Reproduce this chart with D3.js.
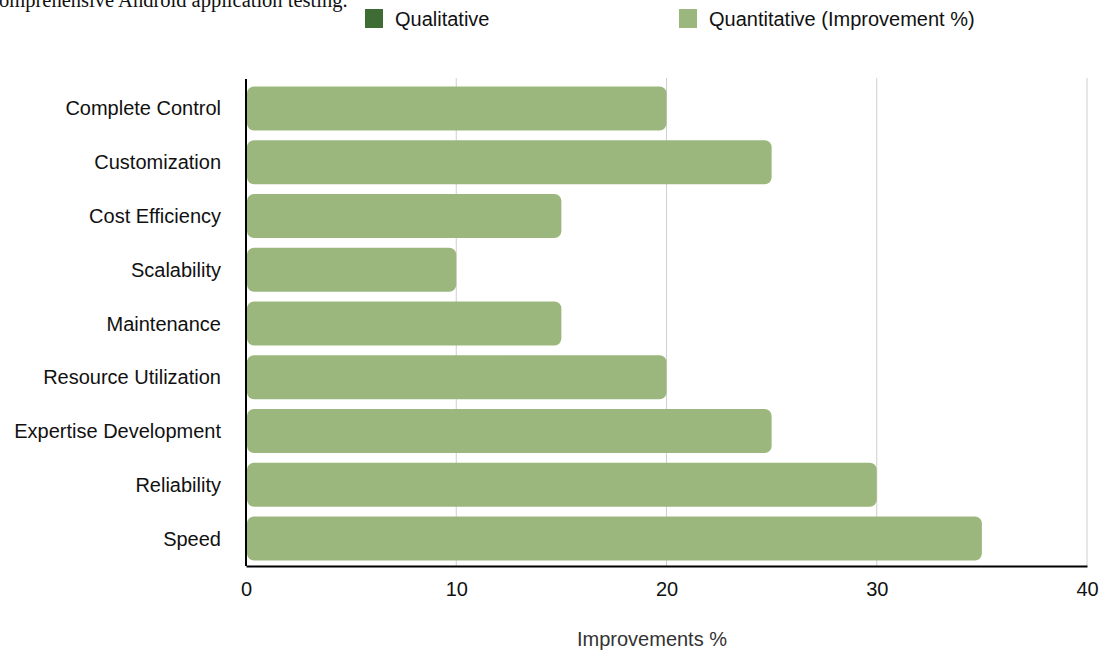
<!DOCTYPE html>
<html>
<head>
<meta charset="utf-8">
<script src="https://cdn.jsdelivr.net/npm/d3@7"></script>
<style>
  body { margin: 0; background: #fff; }
  svg { display: block; }
</style>
</head>
<body>
<div id="chart"></div>
<script>
'use strict';

// chart data
const categories = ["Complete Control", "Customization", "Cost Efficiency", "Scalability",
    "Maintenance", "Resource Utilization", "Expertise Development", "Reliability", "Speed"];
const improvements = [20, 25, 15, 10, 15, 20, 25, 30, 35];
const xTicks = [0, 10, 20, 30, 40];
const legendLabels = ["Qualitative", "Quantitative (Improvement %)"];
const legendColors = ["#3f6b34", "#9bb77e"];

const W = 1102, H = 650;
const plotLeft = 246, plotRight = 1087, plotTop = 81, plotBottom = 566;
const sans = "'Liberation Sans', Arial, sans-serif";

const svg = d3.select("#chart").append("svg")
    .attr("width", W)
    .attr("height", H);

// clipped caption from the surrounding document
svg.append("text")
    .attr("x", -10)
    .attr("y", 7)
    .style("font-family", "'Liberation Serif', serif")
    .style("font-size", "20.5px")
    .attr("fill", "#111")
    .text("comprehensive Android application testing.");

const x = d3.scaleLinear().domain([0, 40]).range([plotLeft, plotRight]);
const y = d3.scaleBand().domain(categories).range([plotTop, plotBottom]).paddingInner(0.18).paddingOuter(0.1);

// gridlines
svg.append("g")
    .selectAll("line")
    .data(xTicks.slice(1))
    .enter()
    .append("line")
    .attr("x1", d => x(d)).attr("x2", d => x(d))
    .attr("y1", plotTop - 3).attr("y2", plotBottom)
    .attr("stroke", "#cfcfcf")
    .attr("stroke-width", 1);

// bars
svg.append("g")
    .selectAll("rect")
    .data(categories)
    .enter()
    .append("rect")
    .attr("x", x(0) + 1)
    .attr("y", d => y(d))
    .attr("width", (d, i) => x(improvements[i]) - x(0) - 1)
    .attr("height", y.bandwidth())
    .attr("rx", 7)
    .attr("fill", legendColors[1]);

// axes
const xAxis = svg.append("g")
    .attr("transform", "translate(0," + plotBottom + ")")
    .call(d3.axisBottom(x).tickValues(xTicks).tickSize(0).tickPadding(16));
xAxis.select(".domain").attr("stroke", "#000").attr("stroke-width", 2);
xAxis.selectAll("text")
    .style("font-family", sans)
    .style("font-size", "20px")
    .attr("fill", "#111");

const yAxis = svg.append("g")
    .attr("transform", "translate(" + plotLeft + ",0)")
    .call(d3.axisLeft(y).tickSize(0).tickPadding(25));
yAxis.select(".domain").attr("d", "M0," + (plotTop - 2) + "V" + plotBottom)
    .attr("stroke", "#000").attr("stroke-width", 2);
yAxis.selectAll("text")
    .style("font-family", sans)
    .style("font-size", "20px")
    .attr("dy", "0.35em")
    .attr("fill", "#111");

// axis title
svg.append("text")
    .attr("x", 652)
    .attr("y", 646)
    .attr("text-anchor", "middle")
    .style("font-family", sans)
    .style("font-size", "20px")
    .attr("fill", "#333")
    .text("Improvements %");

// legend
const legendX = [365, 679];
const legend = svg.append("g")
    .selectAll("g")
    .data(legendLabels)
    .enter()
    .append("g")
    .attr("transform", (d, i) => "translate(" + legendX[i] + ",9)");
legend.append("rect")
    .attr("width", 18).attr("height", 19)
    .attr("fill", (d, i) => legendColors[i]);
legend.append("text")
    .attr("x", 30)
    .attr("y", 17)
    .style("font-family", sans)
    .style("font-size", "20px")
    .attr("fill", "#111")
    .text(d => d);
</script>
</body>
</html>
